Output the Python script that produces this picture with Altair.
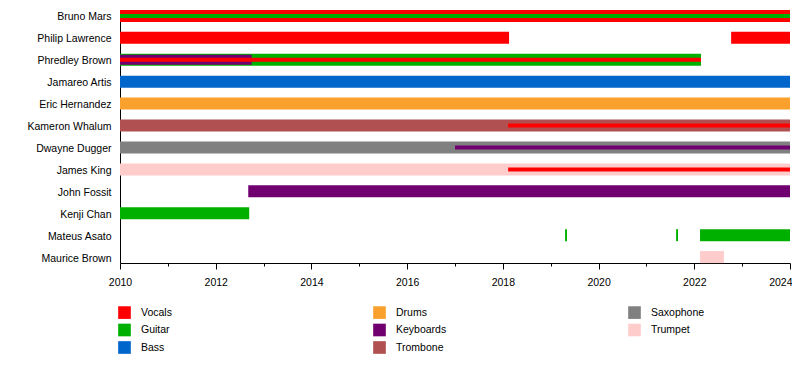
import altair as alt
import pandas as pd

members = ["Bruno Mars", "Philip Lawrence", "Phredley Brown", "Jamareo Artis",
           "Eric Hernandez", "Kameron Whalum", "Dwayne Dugger", "James King",
           "John Fossit", "Kenji Chan", "Mateus Asato", "Maurice Brown"]

instruments = ["Vocals", "Guitar", "Bass", "Drums", "Keyboards", "Trombone", "Saxophone", "Trumpet"]
colors = ["#ff0000", "#00b000", "#0066cc", "#f9a12c", "#700070", "#b05050", "#808080", "#ffcccc"]

# main bars
bar_member = ["Bruno Mars", "Philip Lawrence", "Philip Lawrence", "Phredley Brown",
              "Jamareo Artis", "Eric Hernandez", "Kameron Whalum", "Dwayne Dugger",
              "James King", "John Fossit", "Kenji Chan", "Mateus Asato",
              "Mateus Asato", "Mateus Asato", "Maurice Brown"]
bar_instr = ["Vocals", "Vocals", "Vocals", "Guitar", "Bass", "Drums", "Trombone",
             "Saxophone", "Trumpet", "Keyboards", "Guitar", "Guitar", "Guitar",
             "Guitar", "Trumpet"]
bar_start = [2010, 2010, 2022.77, 2010, 2010, 2010, 2010, 2010, 2010, 2012.68,
             2010, 2019.30, 2021.62, 2022.12, 2022.12]
bar_end = [2024, 2018.13, 2024, 2022.14, 2024, 2024, 2024, 2024, 2024, 2024,
           2012.70, 2019.34, 2021.66, 2024, 2022.62]

# medium band
mid_member = ["Phredley Brown"]
mid_instr = ["Keyboards"]
mid_start = [2010]
mid_end = [2012.75]

# thin stripes (secondary roles)
str_member = ["Bruno Mars", "Phredley Brown", "Kameron Whalum", "Dwayne Dugger", "James King"]
str_instr = ["Guitar", "Vocals", "Vocals", "Keyboards", "Vocals"]
str_start = [2010, 2010, 2018.11, 2017.0, 2018.11]
str_end = [2024, 2022.14, 2024, 2024, 2024]

years = list(range(2010, 2025))

bars = pd.DataFrame({"member": bar_member, "instrument": bar_instr, "start": bar_start, "end": bar_end})
mids = pd.DataFrame({"member": mid_member, "instrument": mid_instr, "start": mid_start, "end": mid_end})
stripes = pd.DataFrame({"member": str_member, "instrument": str_instr, "start": str_start, "end": str_end})

FS = 10.5

x_enc = alt.X("start:Q", title=None,
              scale=alt.Scale(domain=[2010, 2024], nice=False, zero=False),
              axis=alt.Axis(values=years, format="d",
                            labelExpr="datum.value % 2 == 0 ? datum.label : ''",
                            tickSize={"condition": {"test": "datum.value % 2 == 0", "value": 6}, "value": 3},
                            labelAlign={"condition": {"test": "datum.value == 2024", "value": "right"}, "value": "center"},
                            labelOffset={"condition": {"test": "datum.value == 2024", "value": 2}, "value": 0},
                            tickColor="black", domainColor="black", labelColor="black",
                            labelFontSize=FS, labelPadding=8, labelFlush=False, grid=False))
y_enc = alt.Y("member:N", title=None,
              scale=alt.Scale(type="point", domain=members, padding=0.27),
              axis=alt.Axis(ticks=False, labelPadding=9, labelFontSize=FS, labelOffset=1,
                            labelColor="black", domainColor="black", grid=False))
legend = alt.Legend(title=None, orient="none", legendX=-2, legendY=296, columns=3,
                    gridAlign="all", columnPadding=178, rowPadding=4.5,
                    symbolType="square", symbolSize=160, symbolStrokeWidth=0,
                    symbolOpacity=1, labelFontSize=FS, labelOffset=10, labelColor="black",
                    padding=0)
c_enc = alt.Color("instrument:N", scale=alt.Scale(domain=instruments, range=colors), legend=legend)

main = alt.Chart(bars).mark_bar(size=12).encode(
    x=x_enc, x2="end:Q", y=y_enc, color=c_enc)
mid = alt.Chart(mids).mark_bar(size=10).encode(
    x=x_enc, x2="end:Q", y=y_enc, color=c_enc)
thin = alt.Chart(stripes).mark_bar(size=4).encode(
    x=x_enc, x2="end:Q", y=y_enc, color=c_enc)

chart = alt.layer(main, mid, thin).properties(
    width=670, height=253,
    autosize=alt.AutoSizeParams(type="none"),
    padding={"left": 112, "top": 2, "right": 2, "bottom": 100},
).configure(font="Liberation Sans").configure_view(stroke=None)

chart.save("out.html", embed_options={"renderer": "svg", "actions": False})
